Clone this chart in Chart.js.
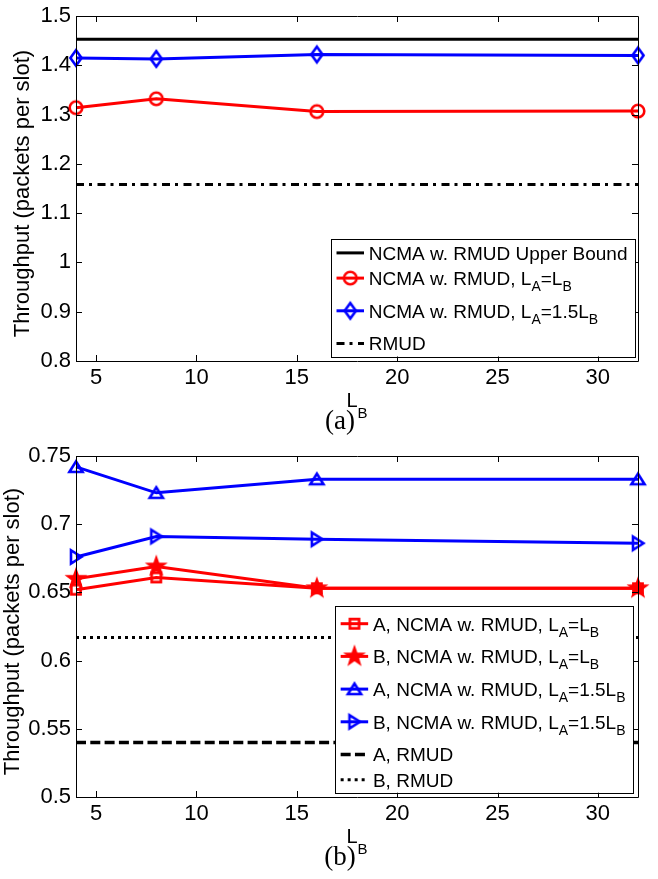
<!DOCTYPE html>
<html>
<head>
<meta charset="utf-8">
<script src="https://cdn.jsdelivr.net/npm/chart.js@4.4.1/dist/chart.umd.min.js"></script>
<style>
  body { margin: 0; background: #fff; }
  canvas { display: block; }
</style>
</head>
<body>
<canvas id="chartA" width="658" height="440"></canvas>
<canvas id="chartB" width="658" height="439"></canvas>
<script>
// L_B values of the simulations
const lbValues = [4, 8, 16, 32];
const lbRange = [4, 32];
const xTicks = [5, 10, 15, 20, 25, 30];

// (a) total throughput
const yTicksA = [0.8, 0.9, 1.0, 1.1, 1.2, 1.3, 1.4, 1.5];
const upperBound = 1.453;
const ncmaEqual = [1.314, 1.332, 1.306, 1.307];
const ncmaOneHalf = [1.415, 1.413, 1.422, 1.420];
const rmudTotal = 1.158;

// (b) throughput per user
const yTicksB = [0.5, 0.55, 0.6, 0.65, 0.7, 0.75];
const aEqual = [0.652, 0.661, 0.653, 0.653];
const bEqual = [0.660, 0.669, 0.653, 0.653];
const aOneHalf = [0.742, 0.723, 0.733, 0.733];
const bOneHalf = [0.676, 0.691, 0.689, 0.686];
const aRmud = 0.540;
const bRmud = 0.617;

const SANS = '"Liberation Sans", Arial, Helvetica, sans-serif';
const SERIF = '"Liberation Serif", "Times New Roman", serif';
const RED = '#ff0000', BLUE = '#0000ff';

const pts = arr => lbValues.map((x, i) => ({ x, y: arr[i] }));
const hline = v => lbRange.map(x => ({ x, y: v }));

// matlab-like markers as small canvases
function marker(shape, color) {
  const c = document.createElement('canvas');
  c.width = c.height = 28;
  const g = c.getContext('2d');
  g.translate(14, 14);
  g.strokeStyle = color;
  g.fillStyle = color;
  g.lineWidth = 2.6;
  g.lineJoin = 'miter';
  g.beginPath();
  if (shape === 'circle') {
    g.arc(0, 0, 6.3, 0, Math.PI * 2);
  } else if (shape === 'diamond') {
    g.moveTo(0, -7.8); g.lineTo(5.6, 0); g.lineTo(0, 7.8); g.lineTo(-5.6, 0); g.closePath();
  } else if (shape === 'square') {
    g.rect(-4.6, -4.6, 9.2, 9.2);
  } else if (shape === 'triUp') {
    g.moveTo(0, -5.5); g.lineTo(6.6, 5); g.lineTo(-6.6, 5); g.closePath();
  } else if (shape === 'triRight') {
    g.moveTo(5.5, 0); g.lineTo(-5, 6.6); g.lineTo(-5, -6.6); g.closePath();
  } else if (shape === 'star') {
    g.lineWidth = 1.5;
    for (let i = 0; i < 10; i++) {
      const r = i % 2 ? 3.9 : 9.8;
      const ang = -Math.PI / 2 + i * Math.PI / 5;
      g.lineTo(r * Math.cos(ang), r * Math.sin(ang));
    }
    g.closePath();
    g.fill();
  }
  g.stroke();
  return c;
}

function series(label, data, color, shape) {
  return {
    label, data,
    borderColor: color, borderWidth: 3,
    pointStyle: marker(shape, color), pointRadius: 6,
    clip: false
  };
}
function refLine(label, value, dash, width) {
  return {
    label, data: hline(value),
    borderColor: '#000', borderWidth: width, borderDash: dash,
    pointRadius: 0, clip: false
  };
}

// draws text where "_X" means subscript X
function rich(ctx, str, x, base, fs, ss, draw) {
  str.split(/_(.)/).forEach((t, i) => {
    if (!t) return;
    const sub = i % 2 === 1;
    ctx.font = (sub ? ss : fs) + 'px ' + SANS;
    if (draw) ctx.fillText(t, x, base + (sub ? 6 : 0));
    x += ctx.measureText(t).width;
  });
  return x;
}

const decor = {
  id: 'decor',
  afterDatasetsDraw(chart, args, o) {
    const { ctx, chartArea: a } = chart;
    const sx = chart.scales.x, sy = chart.scales.y;
    ctx.save();

    // axes box with inward ticks
    ctx.strokeStyle = '#000';
    ctx.lineWidth = 1;
    ctx.beginPath();
    ctx.rect(Math.round(a.left) + 0.5, Math.round(a.top) + 0.5, Math.round(a.right - a.left), Math.round(a.bottom - a.top));
    xTicks.forEach(v => {
      const px = Math.round(sx.getPixelForValue(v)) + 0.5;
      ctx.moveTo(px, a.bottom); ctx.lineTo(px, a.bottom - 6);
      ctx.moveTo(px, a.top); ctx.lineTo(px, a.top + 6);
    });
    o.yTicks.forEach(v => {
      const py = Math.round(sy.getPixelForValue(v)) + 0.5;
      ctx.moveTo(a.left, py); ctx.lineTo(a.left + 6, py);
      ctx.moveTo(a.right, py); ctx.lineTo(a.right - 6, py);
    });
    ctx.stroke();

    // legend (south east)
    const items = chart.data.datasets;
    const hasSub = s => s.includes('_');
    const centers = [];
    let h = hasSub(items[0].label) ? 17.7 : 14.4;
    items.forEach((ds, i) => {
      if (i > 0) h += hasSub(items[i - 1].label) ? 32.7 : 25.2;
      centers.push(h);
    });
    const boxH = h + 13;
    let textW = 0;
    items.forEach(ds => { textW = Math.max(textW, rich(ctx, ds.label, 0, 0, 19, 14, false)); });
    const boxW = 37.8 + textW + 7.5;
    const right = a.right - o.legendInset[0];
    const bottom = a.bottom - o.legendInset[1];
    const left = right - boxW, top = bottom - boxH;
    ctx.fillStyle = '#fff';
    ctx.fillRect(left, top, boxW, boxH);
    ctx.strokeStyle = '#000';
    ctx.lineWidth = 1;
    ctx.strokeRect(Math.round(left) + 0.5, Math.round(top) + 0.5, Math.round(boxW), Math.round(boxH));
    items.forEach((ds, i) => {
      const cy = top + centers[i];
      ctx.save();
      ctx.strokeStyle = ds.borderColor;
      ctx.lineWidth = ds.borderWidth;
      ctx.setLineDash(ds.borderDash || []);
      ctx.beginPath();
      ctx.moveTo(left + 5.5, cy); ctx.lineTo(left + 33, cy);
      ctx.stroke();
      ctx.restore();
      if (ds.pointRadius > 0) {
        const m = ds.pointStyle;
        ctx.drawImage(m, left + 19.3 - m.width / 2, cy - m.height / 2);
      }
      ctx.fillStyle = '#000';
      ctx.textBaseline = 'alphabetic';
      ctx.textAlign = 'left';
      rich(ctx, ds.label, left + 37.8, cy + 6.8, 19, 14, true);
    });

    // axis titles and caption
    const cx = (a.left + a.right) / 2;
    ctx.fillStyle = '#000';
    ctx.textAlign = 'left';
    ctx.textBaseline = 'alphabetic';
    ctx.font = '20px ' + SANS;
    const wL = ctx.measureText('L').width;
    ctx.font = '15px ' + SANS;
    const wB = ctx.measureText('B').width;
    const lx = cx - (wL + wB) / 2;
    ctx.font = '20px ' + SANS;
    ctx.fillText('L', lx, a.bottom + 46);
    ctx.font = '15px ' + SANS;
    ctx.fillText('B', lx + wL, a.bottom + 57);

    ctx.font = '27px ' + SERIF;
    ctx.textAlign = 'center';
    ctx.fillText(o.caption, cx - 17, a.bottom + 68);

    ctx.save();
    ctx.translate(o.yTitleX, (a.top + a.bottom) / 2 + 5);
    ctx.rotate(-Math.PI / 2);
    ctx.font = '22px ' + SANS;
    ctx.textAlign = 'center';
    ctx.textBaseline = 'middle';
    ctx.fillText('Throughput (packets per slot)', 0, 0);
    ctx.restore();

    ctx.restore();
  }
};

function makeChart(id, datasets, yTicks, cfg) {
  return new Chart(document.getElementById(id), {
    type: 'line',
    data: { datasets },
    plugins: [decor],
    options: {
      responsive: false,
      animation: false,
      layout: { padding: { left: 0, right: 20, top: cfg.top, bottom: 0 } },
      scales: {
        x: {
          type: 'linear',
          min: lbRange[0], max: lbRange[1],
          afterBuildTicks: s => { s.ticks = xTicks.map(v => ({ value: v })); },
          afterFit: s => { s.height = cfg.xHeight; },
          grid: { display: false, drawTicks: false },
          border: { display: false },
          ticks: { color: '#000', padding: 4, font: { family: SANS, size: 22 }, maxRotation: 0 }
        },
        y: {
          min: yTicks[0], max: yTicks[yTicks.length - 1],
          afterBuildTicks: s => { s.ticks = yTicks.map(v => ({ value: v })); },
          afterFit: s => { s.width = 76; },
          grid: { display: false, drawTicks: false },
          border: { display: false },
          ticks: {
            color: '#000', padding: 5,
            font: { family: SANS, size: 22, lineHeight: 1 },
            callback: v => String(+v.toFixed(2))
          }
        }
      },
      plugins: {
        legend: { display: false },
        tooltip: { enabled: false },
        decor: { yTicks, caption: cfg.caption, legendInset: cfg.legendInset, yTitleX: cfg.yTitleX }
      }
    }
  });
}

makeChart('chartA', [
  refLine('NCMA w. RMUD Upper Bound', upperBound, [], 3),
  series('NCMA w. RMUD, L_A=L_B', pts(ncmaEqual), RED, 'circle'),
  series('NCMA w. RMUD, L_A=1.5L_B', pts(ncmaOneHalf), BLUE, 'diamond'),
  refLine('RMUD', rmudTotal, [8, 5, 3, 5.5], 3)
], yTicksA, { top: 16, xHeight: 79, caption: '(a)', legendInset: [3, 4.5], yTitleX: 23 });

makeChart('chartB', [
  series('A, NCMA w. RMUD, L_A=L_B', pts(aEqual), RED, 'square'),
  series('B, NCMA w. RMUD, L_A=L_B', pts(bEqual), RED, 'star'),
  series('A, NCMA w. RMUD, L_A=1.5L_B', pts(aOneHalf), BLUE, 'triUp'),
  series('B, NCMA w. RMUD, L_A=1.5L_B', pts(bOneHalf), BLUE, 'triRight'),
  refLine('A, RMUD', aRmud, [10, 4.3], 3.5),
  refLine('B, RMUD', bRmud, [3, 4], 3)
], yTicksB, { top: 12, xHeight: 82, caption: '(b)', legendInset: [5, 4.3], yTitleX: 13 });
</script>
</body>
</html>
